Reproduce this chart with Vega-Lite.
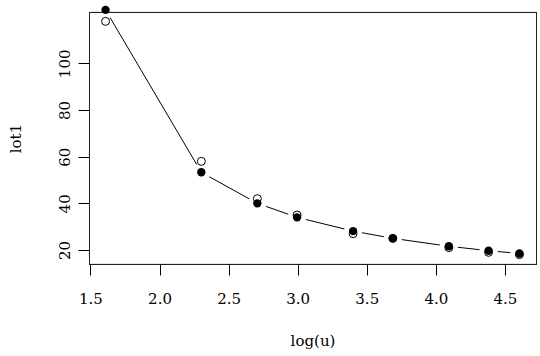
{
  "$schema": "https://vega.github.io/schema/vega-lite/v6.json",
  "autosize": {"type": "none"},
  "width": 447,
  "height": 252,
  "padding": {"left": 89, "top": 12, "right": 4, "bottom": 92},
  "background": "white",
  "config": {
    "view": {"stroke": null},
    "axis": {
      "domain": false,
      "grid": false,
      "tickColor": "black",
      "tickSize": 11,
      "labelFont": "DejaVu Serif",
      "labelFontSize": 15,
      "labelColor": "black",
      "titleFont": "DejaVu Serif",
      "titleFontSize": 15,
      "titleFontWeight": "normal",
      "titleColor": "black"
    }
  },
  "data": {
    "values": [
      {"logu": 1.6094, "lot1": 118, "fitted": 122.9},
      {"logu": 2.3026, "lot1": 58, "fitted": 53.3},
      {"logu": 2.7081, "lot1": 42, "fitted": 40.0},
      {"logu": 2.9957, "lot1": 35, "fitted": 34.0},
      {"logu": 3.4012, "lot1": 27, "fitted": 28.1},
      {"logu": 3.6889, "lot1": 25, "fitted": 25.0},
      {"logu": 4.0943, "lot1": 21, "fitted": 21.6},
      {"logu": 4.382, "lot1": 19, "fitted": 19.7},
      {"logu": 4.6052, "lot1": 18, "fitted": 18.5}
    ]
  },
  "encoding": {
    "x": {
      "field": "logu", "type": "quantitative",
      "scale": {"domain": [1.4896, 4.7252], "nice": false, "zero": false},
      "axis": {"title": "log(u)", "values": [1.5, 2.0, 2.5, 3.0, 3.5, 4.0, 4.5], "format": ".1f",
               "labelBaseline": "middle", "labelPadding": 23, "labelFlush": false,
               "titleBaseline": "middle", "titleY": 76}
    },
    "y": {
      "field": "lot1", "type": "quantitative",
      "scale": {"domain": [14, 122], "nice": false, "zero": false},
      "axis": {"title": "lot1", "values": [20, 40, 60, 80, 100], "labelAngle": -90,
               "labelAlign": "center", "labelBaseline": "middle", "labelPadding": 14, "labelFlush": false,
               "titleAngle": -90, "titleBaseline": "middle", "titleAlign": "center", "titleX": -74, "titleY": 126}
    }
  },
  "layer": [
    {"mark": {"type": "line", "color": "black", "strokeWidth": 1},
     "encoding": {"y": {"field": "fitted", "type": "quantitative"}}},
    {"mark": {"type": "circle", "color": "white", "opacity": 1, "size": 340},
     "encoding": {"y": {"field": "fitted", "type": "quantitative"}}},
    {"mark": {"type": "rect", "fill": null, "stroke": "#222222", "strokeWidth": 1},
     "encoding": {
       "x": {"datum": 1.49322, "type": "quantitative"},
       "x2": {"datum": 4.72882},
       "y": {"datum": 13.786, "type": "quantitative"},
       "y2": {"datum": 121.786}
     }},
    {"mark": {"type": "point", "shape": "circle", "filled": false, "color": "black", "strokeWidth": 1, "size": 64, "opacity": 1}},
    {"mark": {"type": "circle", "color": "black", "size": 70, "opacity": 1},
     "encoding": {"y": {"field": "fitted", "type": "quantitative"}}}
  ]
}
